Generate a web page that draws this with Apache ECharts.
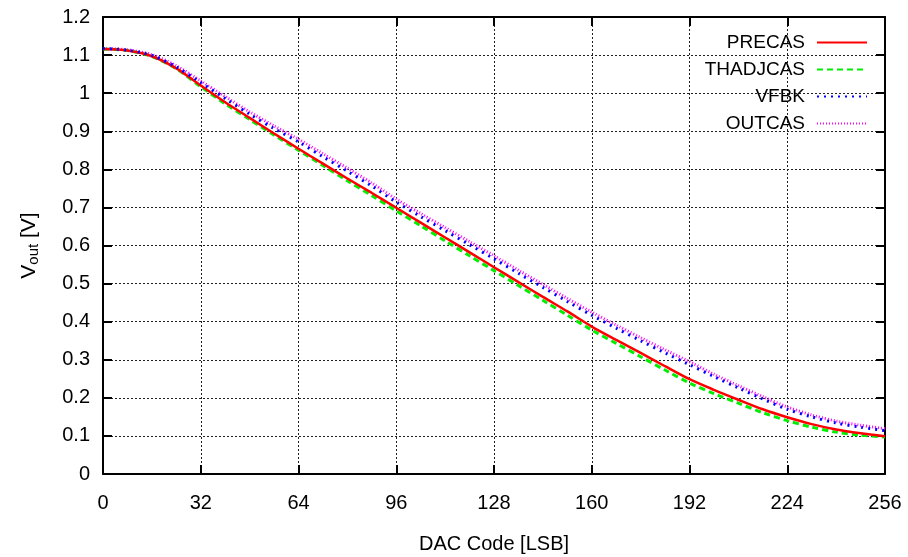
<!DOCTYPE html>
<html>
<head>
<meta charset="utf-8">
<script src="https://cdn.jsdelivr.net/npm/echarts@6/dist/echarts.min.js"></script>
<style>html,body{margin:0;padding:0;background:#fff}#c{width:908px;height:557px}</style>
</head>
<body>
<div id="c"></div>
<script>
var codes = [0,8,16,24,32,40,48,56,64,72,80,88,96,104,112,120,128,136,144,152,160,168,176,184,192,200,208,216,224,232,240,248,256];
var precas = [1.116,1.112,1.097,1.065,1.020,0.976,0.935,0.894,0.854,0.815,0.776,0.738,0.699,0.660,0.621,0.582,0.543,0.504,0.465,0.427,0.387,0.352,0.318,0.283,0.249,0.221,0.195,0.170,0.149,0.131,0.117,0.107,0.099];
var thadjcas = [1.116,1.112,1.096,1.064,1.017,0.972,0.931,0.890,0.850,0.810,0.770,0.731,0.691,0.652,0.612,0.573,0.534,0.495,0.456,0.417,0.378,0.343,0.308,0.273,0.239,0.211,0.186,0.161,0.140,0.123,0.110,0.102,0.097];
var vfbk = [1.117,1.113,1.099,1.069,1.028,0.986,0.945,0.907,0.872,0.833,0.795,0.756,0.714,0.676,0.639,0.602,0.565,0.527,0.490,0.453,0.417,0.383,0.350,0.318,0.287,0.256,0.226,0.197,0.170,0.150,0.134,0.123,0.114];
var outcas = [1.117,1.114,1.101,1.072,1.032,0.991,0.951,0.914,0.879,0.841,0.803,0.764,0.722,0.684,0.647,0.610,0.573,0.535,0.498,0.461,0.425,0.391,0.358,0.326,0.295,0.262,0.232,0.203,0.176,0.155,0.139,0.128,0.119];
var seriesNames = ['PRECAS','THADJCAS','VFBK','OUTCAS'];
var xTicks = [0,32,64,96,128,160,192,224,256];
var yTicks = [0,0.1,0.2,0.3,0.4,0.5,0.6,0.7,0.8,0.9,1,1.1,1.2];

function pairs(vals){ return codes.map(function(c,i){ return [c, vals[i]]; }); }

var FONT = '"Liberation Sans",Arial,sans-serif';
var chart = echarts.init(document.getElementById('c'), null, {renderer:'canvas'});
var gridLine = {show:true, lineStyle:{color:'#222', width:1, type:[2,2]}};
var axisLine = {show:true, onZero:false, lineStyle:{color:'#000', width:2}};
var tick = {show:true, inside:true, length:9, lineStyle:{color:'#000', width:2}};

chart.setOption({
  animation:false,
  backgroundColor:'#fff',
  grid:{left:103, right:23, top:17, bottom:83, containLabel:false, outerBoundsMode:'none'},
  legend:{
    right:35, top:28, orient:'vertical', align:'right',
    itemWidth:50, itemHeight:14, itemGap:8,
    itemStyle:{opacity:0},
    textStyle:{fontFamily:FONT, fontSize:19, color:'#000', padding:[0,7,0,0]},
    data:seriesNames
  },
  xAxis:[{
    type:'value', min:xTicks[0], max:xTicks[xTicks.length-1], interval:32, position:'bottom',
    axisLine:axisLine, axisTick:tick, splitLine:gridLine,
    axisLabel:{fontFamily:FONT, fontSize:20, color:'#000', margin:19},
    name:'DAC Code [LSB]', nameLocation:'middle', nameGap:60,
    nameTextStyle:{fontFamily:FONT, fontSize:20, color:'#000'}
  },{
    type:'value', min:xTicks[0], max:xTicks[xTicks.length-1], interval:32, position:'top',
    axisLine:axisLine, axisTick:tick, splitLine:{show:false}, axisLabel:{show:false}
  }],
  yAxis:[{
    type:'value', min:yTicks[0], max:yTicks[yTicks.length-1], interval:0.1, position:'left',
    axisLine:axisLine, axisTick:tick, splitLine:gridLine,
    axisLabel:{fontFamily:FONT, fontSize:20, color:'#000', margin:13,
      formatter:function(v){ return String(+v.toFixed(1)); }},
    name:'{a|V}{b|out}{a| [V]}', nameLocation:'middle', nameGap:62, nameRotate:90,
    nameTextStyle:{rich:{
      a:{fontFamily:FONT, fontSize:21, color:'#000'},
      b:{fontFamily:FONT, fontSize:15, color:'#000', padding:[8,0,0,0]}
    }}
  },{
    type:'value', min:yTicks[0], max:yTicks[yTicks.length-1], interval:0.1, position:'right',
    axisLine:axisLine, axisTick:tick, splitLine:{show:false}, axisLabel:{show:false}
  }],
  series:[
    {name:seriesNames[0], type:'line', data:pairs(precas), showSymbol:false, symbol:'none', smooth:0.3,
     lineStyle:{color:'#ff0000', width:2.5, type:'solid'}, itemStyle:{color:'#ff0000'}, z:4},
    {name:seriesNames[1], type:'line', data:pairs(thadjcas), showSymbol:false, symbol:'none', smooth:0.3,
     lineStyle:{color:'#00ee00', width:3, type:[6,4]}, itemStyle:{color:'#00ee00'}, z:3},
    {name:seriesNames[2], type:'line', data:pairs(vfbk), showSymbol:false, symbol:'none', smooth:0.3,
     lineStyle:{color:'#0000ff', width:3, type:[2,5]}, itemStyle:{color:'#0000ff'}, z:5},
    {name:seriesNames[3], type:'line', data:pairs(outcas), showSymbol:false, symbol:'none', smooth:0.3,
     lineStyle:{color:'#ff00ff', width:3, type:[1,2]}, itemStyle:{color:'#ff00ff'}, z:2}
  ]
});
</script>
</body>
</html>
